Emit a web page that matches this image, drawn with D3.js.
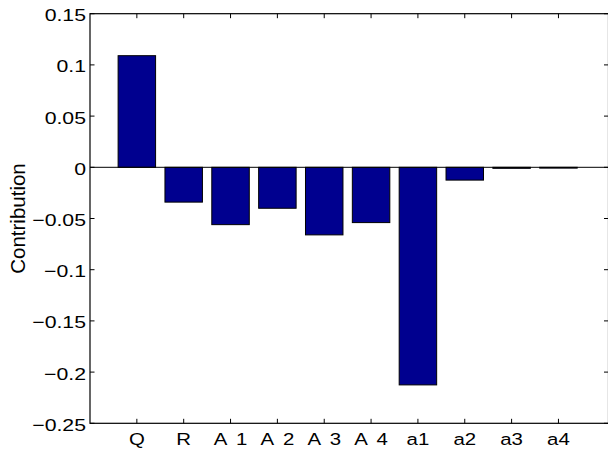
<!DOCTYPE html>
<html>
<head>
<meta charset="utf-8">
<script src="https://cdn.jsdelivr.net/npm/d3@7"></script>
<style>
  body { margin: 0; background: #fff; }
  svg { display: block; }
  text { font-family: "Liberation Sans", Arial, sans-serif; fill: #000; }
</style>
</head>
<body>
<div id="chart"></div>
<script>
var categories = ["Q", "R", "A 1", "A 2", "A 3", "A 4", "a1", "a2", "a3", "a4"];
var contribution = [0.109, -0.034, -0.056, -0.040, -0.066, -0.054, -0.2125, -0.0125, -0.001, -0.0008];
var yTicks = [-0.25, -0.2, -0.15, -0.1, -0.05, 0, 0.05, 0.1, 0.15];

var width = 608, height = 449;
var mLeft = 90, mTop = 13.7, mBottom = 423.3, mRight = 608.5;

var svg = d3.select("#chart").append("svg")
    .attr("width", width)
    .attr("height", height);

var x = d3.scaleLinear().domain([0, 11]).range([mLeft, 605.3]);
var y = d3.scaleLinear().domain([-0.25, 0.15]).range([mBottom, mTop]);
var barW = (x(1) - x(0)) * 0.8;

var fmt = function (d) {
  var s = d3.format("")(+d.toFixed(2));
  return s.replace("-", "\u2212");
};

// bars
svg.selectAll("rect.bar")
  .data(contribution)
  .enter()
  .append("rect")
    .attr("class", "bar")
    .attr("x", function (d, i) { return x(i + 1) - barW / 2; })
    .attr("y", function (d) { return y(Math.max(0, d)); })
    .attr("width", barW)
    .attr("height", function (d) { return Math.abs(y(d) - y(0)); })
    .attr("fill", "#00008f")
    .attr("stroke", "#000")
    .attr("stroke-width", 1);

// baseline
svg.append("line")
  .attr("x1", mLeft).attr("x2", mRight)
  .attr("y1", y(0)).attr("y2", y(0))
  .attr("stroke", "#000")
  .attr("stroke-width", 1);

// frame
svg.append("rect")
  .attr("x", mLeft).attr("y", mTop)
  .attr("width", mRight - mLeft).attr("height", mBottom - mTop)
  .attr("fill", "none")
  .attr("stroke", "#000")
  .attr("stroke-width", 1.2);

var tl = 4.5;

// x ticks top & bottom
var xt = svg.append("g");
categories.forEach(function (c, i) {
  xt.append("line")
    .attr("x1", x(i + 1)).attr("x2", x(i + 1))
    .attr("y1", mBottom).attr("y2", mBottom - tl)
    .attr("stroke", "#000");
  xt.append("line")
    .attr("x1", x(i + 1)).attr("x2", x(i + 1))
    .attr("y1", mTop).attr("y2", mTop + tl)
    .attr("stroke", "#000");
});

xt.selectAll("text")
  .data(categories)
  .enter()
  .append("text")
    .attr("transform", function (d, i) { return "translate(" + x(i + 1) + "," + (mBottom + 21.7) + ") scale(1.2,1)"; })
    .attr("text-anchor", "middle")
    .style("font-size", "17px")
    .style("word-spacing", "3.5px")
    .text(function (d) { return d; });

// y ticks left & right
var yt = svg.append("g");
yTicks.forEach(function (t) {
  yt.append("line")
    .attr("x1", mLeft).attr("x2", mLeft + tl)
    .attr("y1", y(t)).attr("y2", y(t))
    .attr("stroke", "#000");
  yt.append("line")
    .attr("x1", mRight).attr("x2", mRight - tl)
    .attr("y1", y(t)).attr("y2", y(t))
    .attr("stroke", "#000");
});

yt.selectAll("text")
  .data(yTicks)
  .enter()
  .append("text")
    .attr("transform", function (d) { return "translate(" + (mLeft - 4) + "," + (y(d) + 7.5) + ") scale(1.25,1)"; })
    .attr("text-anchor", "end")
    .style("font-size", "17px")
    .text(fmt);

// y label
svg.append("text")
  .attr("transform", "translate(25," + ((mTop + mBottom) / 2) + ") rotate(-90)")
  .attr("text-anchor", "middle")
  .style("font-size", "20.5px")
  .text("Contribution");
</script>
</body>
</html>
